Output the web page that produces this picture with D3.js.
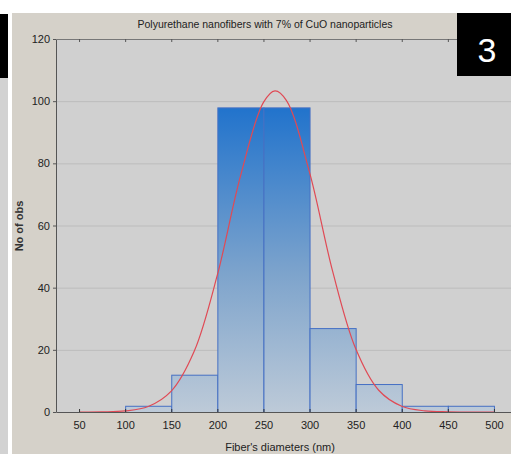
<!DOCTYPE html>
<html>
<head>
<meta charset="utf-8">
<script src="https://cdn.jsdelivr.net/npm/d3@7/dist/d3.min.js"></script>
<style>
  html, body { margin: 0; padding: 0; background: #ffffff; }
  svg { display: block; }
  text { font-family: "Liberation Sans", Arial, sans-serif; }
</style>
</head>
<body>
<svg id="chart" width="511" height="454"></svg>
<script>
// Histogram of fiber diameters (bin edges in nm, counts per bin)
const binStarts = [100, 150, 200, 250, 300, 350, 400, 450];
const binWidth = 50;
const binCounts = [2, 12, 98, 98, 27, 9, 2, 2];

// Fitted normal curve, sampled along the diameter axis
const curveX = [50, 75, 100, 125, 150, 175, 200, 225, 250, 262.5, 275, 300, 325, 350, 375, 400, 425, 450, 475, 500];
const curveY = [0, 0.05, 0.35, 1.75, 6.7, 19.6, 44.1, 75.8, 99.6, 103.3, 100.2, 77.1, 45.3, 20.4, 7.0, 1.85, 0.37, 0.06, 0, 0];

// Axis ticks
const xTicks = [50, 100, 150, 200, 250, 300, 350, 400, 450, 500];
const yTicks = [0, 20, 40, 60, 80, 100, 120];

const title = "Polyurethane nanofibers with 7% of CuO nanoparticles";
const xTitle = "Fiber's diameters (nm)";
const yTitle = "No of obs";
const badge = "3";

const svg = d3.select("#chart");

// Left strip of the neighbouring panel
svg.append("rect").attr("x", 0).attr("y", 78).attr("width", 8).attr("height", 376).attr("fill", "#d2d2d2");
svg.append("rect").attr("x", 0).attr("y", 14).attr("width", 8).attr("height", 64).attr("fill", "#000");

// Chart panel background
svg.append("rect").attr("x", 12).attr("y", 13).attr("width", 499).attr("height", 441).attr("fill", "#d5d1c9");

const plot = { left: 56, right: 517, top: 39, bottom: 412 };

const x = d3.scaleLinear().domain([25, 525]).range([plot.left, plot.right]);
const y = d3.scaleLinear().domain([0, 120]).range([plot.bottom, plot.top]);

// Plot area
svg.append("rect")
  .attr("x", plot.left).attr("y", plot.top)
  .attr("width", plot.right - plot.left).attr("height", plot.bottom - plot.top)
  .attr("fill", "#d0d0d0");

// Horizontal grid
svg.append("g").selectAll("line")
  .data(yTicks.filter(d => d > 0 && d < 120))
  .join("line")
  .attr("x1", plot.left).attr("x2", plot.right)
  .attr("y1", d => y(d) + 0.5).attr("y2", d => y(d) + 0.5)
  .attr("stroke", "#bcbcbc").attr("stroke-width", 1);

// Bar gradient, shared across the plot height
const defs = svg.append("defs");
const grad = defs.append("linearGradient")
  .attr("id", "barGrad").attr("gradientUnits", "userSpaceOnUse")
  .attr("x1", 0).attr("x2", 0).attr("y1", y(98)).attr("y2", y(0));
grad.append("stop").attr("offset", "0%").attr("stop-color", "#2173cc");
grad.append("stop").attr("offset", "55%").attr("stop-color", "#7ea4cc");
grad.append("stop").attr("offset", "100%").attr("stop-color", "#bdcad8");

const bars = binStarts.map((s, i) => ({ x0: s, x1: s + binWidth, n: binCounts[i] }));

svg.append("g").selectAll("rect")
  .data(bars)
  .join("rect")
  .attr("x", d => x(d.x0) + 0.5)
  .attr("y", d => y(d.n) + 0.5)
  .attr("width", d => x(d.x1) - x(d.x0))
  .attr("height", d => y(0) - y(d.n))
  .attr("fill", "url(#barGrad)")
  .attr("stroke", "#4670c4")
  .attr("stroke-width", 1);

// Fitted curve
const line = d3.line()
  .x((d, i) => x(curveX[i]))
  .y(d => y(d))
  .curve(d3.curveCatmullRom);
svg.append("path")
  .attr("d", line(curveY))
  .attr("fill", "none")
  .attr("stroke", "#e04a55")
  .attr("stroke-width", 1.2);

// Axes
const axisColor = "#555";
const bottomAxis = d3.axisBottom(x).tickValues(xTicks).tickSizeInner(-3).tickSizeOuter(0).tickPadding(9);
const gx = svg.append("g").attr("transform", `translate(0,${plot.bottom})`).call(bottomAxis);
gx.select(".domain").attr("stroke", axisColor);
gx.selectAll(".tick line").attr("stroke", "#333");
gx.selectAll(".tick text").attr("font-size", 11).attr("fill", "#222")
  .attr("font-family", "Liberation Sans, Arial, sans-serif");

const topAxis = d3.axisTop(x).tickValues(xTicks).tickSizeInner(-3).tickSizeOuter(0).tickFormat("");
const gt = svg.append("g").attr("transform", `translate(0,${plot.top})`).call(topAxis);
gt.select(".domain").attr("stroke", "#777");
gt.selectAll(".tick line").attr("stroke", "#555");

const leftAxis = d3.axisLeft(y).tickValues(yTicks).tickSizeInner(3).tickSizeOuter(0).tickPadding(3);
const gy = svg.append("g").attr("transform", `translate(${plot.left},0)`).call(leftAxis);
gy.select(".domain").attr("stroke", axisColor);
gy.selectAll(".tick line").attr("stroke", "#555");
gy.selectAll(".tick text").attr("font-size", 11).attr("fill", "#222")
  .attr("font-family", "Liberation Sans, Arial, sans-serif");

// Titles
svg.append("text")
  .attr("x", 265).attr("y", 28)
  .attr("text-anchor", "middle")
  .attr("font-size", 10.5).attr("fill", "#222")
  .text(title);

svg.append("text")
  .attr("x", 280).attr("y", 451)
  .attr("text-anchor", "middle")
  .attr("font-size", 11).attr("fill", "#222")
  .text(xTitle);

svg.append("text")
  .attr("transform", "translate(23,226) rotate(-90)")
  .attr("text-anchor", "middle")
  .attr("font-size", 11).attr("font-weight", "bold").attr("fill", "#333")
  .text(yTitle);

// Panel number badge
svg.append("rect").attr("x", 457).attr("y", 13).attr("width", 54).attr("height", 63).attr("fill", "#000");
svg.append("text")
  .attr("x", 487).attr("y", 62)
  .attr("text-anchor", "middle")
  .attr("font-family", "Open Sans, Lato, sans-serif")
  .attr("font-size", 34).attr("fill", "#fff")
  .text(badge);
</script>
</body>
</html>
